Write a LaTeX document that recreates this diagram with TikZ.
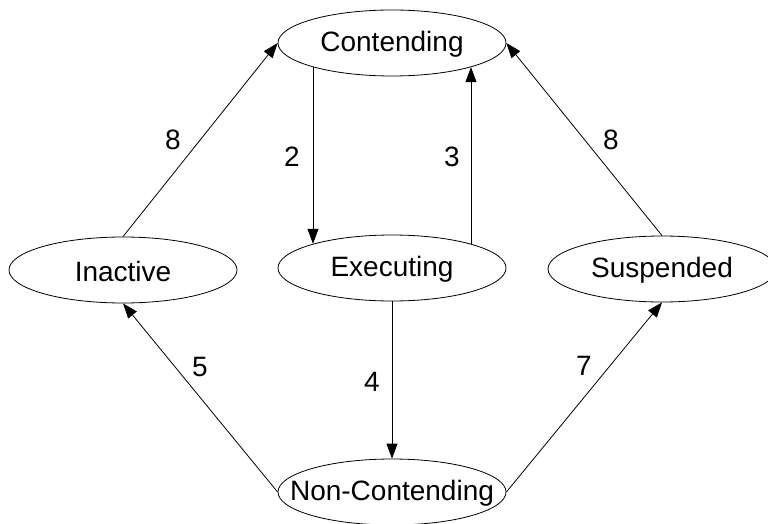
\documentclass[tikz,border=0pt]{standalone}
\usepackage{fontspec}
\setmainfont{Liberation Sans}
\usetikzlibrary{arrows.meta,shapes.geometric}
\begin{document}
\begin{tikzpicture}[x=1pt,y=-1pt,
  state/.style={draw,ellipse,line width=0.8pt,minimum width=228pt,minimum height=66pt,inner sep=0pt,
    label={[font=\fontsize{28}{33}\selectfont,inner sep=0pt,yshift=-1pt]center:#1}},
  conn/.style={line width=0.8pt,-{Triangle[length=15pt,width=11pt]}},
  lbl/.style={font=\fontsize{28}{33}\selectfont,inner sep=0pt}]
\useasboundingbox (0,0) rectangle (768,524);
\node[state=Contending] (cont) at (392,43) {};
\node[state=Inactive] (inact) at (123,270) {};
\node[state=Executing] (exec) at (392,268) {};
\node[state=Suspended] (susp) at (662,269) {};
\node[state=Non-Contending] (ncont) at (392,492) {};
\draw[conn] (inact.north) -- (cont.west);
\draw[conn] (susp.north) -- (cont.east);
\draw[conn] (cont.197) -- (exec.163);
\draw[conn] (exec.17) -- (cont.343);
\draw[conn] (exec.south) -- (ncont.north);
\draw[conn] (ncont.west) -- (inact.south);
\draw[conn] (ncont.east) -- (susp.south);
\node[lbl] (l8a) at (173,140) {8};
\node[lbl] (l8b) at (611,140) {8};
\node[lbl] (l2) at (292,157) {2};
\node[lbl] (l3) at (452,157) {3};
\node[lbl] (l5) at (200,367) {5};
\node[lbl] (l7) at (584,366) {7};
\node[lbl] (l4) at (372,382) {4};
\end{tikzpicture}
\end{document}
